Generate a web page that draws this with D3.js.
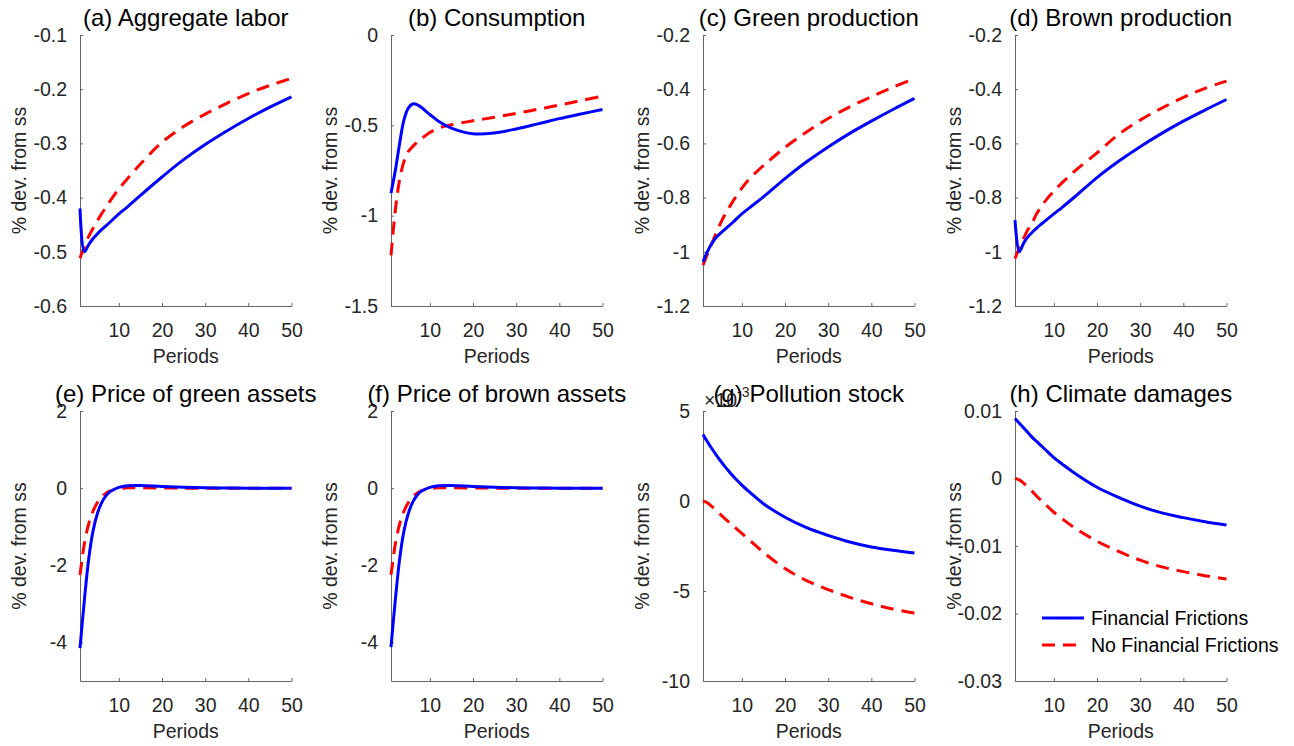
<!DOCTYPE html>
<html>
<head>
<meta charset="utf-8">
<script src="https://cdnjs.cloudflare.com/ajax/libs/d3/7.8.5/d3.min.js"></script>
<style>
  body { margin: 0; background: #fff; }
  text { font-family: "Liberation Sans", Arial, Helvetica, sans-serif; }
</style>
</head>
<body>
<div id="chart"></div>
<script>
var periods = [1, 2, 3, 4, 5, 6, 7, 8, 10, 12, 15, 20, 25, 30, 35, 40, 45, 50];

// (a) Aggregate labor
var laborFF   = [-0.420, -0.500, -0.487, -0.476, -0.467, -0.459, -0.452, -0.445, -0.430, -0.417, -0.396, -0.362, -0.330, -0.302, -0.277, -0.254, -0.233, -0.214];
var laborNoFF = [-0.512, -0.490, -0.472, -0.457, -0.443, -0.430, -0.418, -0.406, -0.384, -0.365, -0.338, -0.298, -0.269, -0.246, -0.226, -0.208, -0.193, -0.180];
// (b) Consumption
var consFF    = [-0.875, -0.750, -0.600, -0.470, -0.405, -0.382, -0.385, -0.400, -0.440, -0.477, -0.515, -0.547, -0.542, -0.520, -0.492, -0.463, -0.437, -0.412];
var consNoFF  = [-1.220, -0.970, -0.800, -0.700, -0.645, -0.618, -0.595, -0.575, -0.540, -0.515, -0.497, -0.475, -0.455, -0.434, -0.411, -0.388, -0.363, -0.338];
// (c) Green production
var greenFF   = [-1.037, -1.000, -0.970, -0.948, -0.932, -0.918, -0.904, -0.890, -0.860, -0.835, -0.797, -0.730, -0.668, -0.613, -0.563, -0.518, -0.475, -0.434];
var greenNoFF = [-1.049, -1.010, -0.972, -0.932, -0.897, -0.865, -0.838, -0.812, -0.765, -0.727, -0.682, -0.615, -0.558, -0.508, -0.465, -0.428, -0.393, -0.360];
// (d) Brown production
var brownFF   = [-0.883, -1.000, -0.968, -0.945, -0.928, -0.913, -0.899, -0.886, -0.860, -0.835, -0.795, -0.726, -0.666, -0.612, -0.563, -0.518, -0.477, -0.438];
var brownNoFF = [-1.025, -0.985, -0.950, -0.918, -0.893, -0.860, -0.836, -0.813, -0.776, -0.744, -0.700, -0.635, -0.567, -0.514, -0.470, -0.430, -0.397, -0.370];
// (e) Price of green assets
var pGreenFF   = [-4.15, -2.92, -1.85, -1.12, -0.67, -0.38, -0.20, -0.09, 0.02, 0.06, 0.07, 0.04, 0.02, 0.01, 0.005, 0, 0, 0];
var pGreenNoFF = [-2.25, -1.45, -0.93, -0.60, -0.38, -0.23, -0.13, -0.07, -0.015, 0.01, 0.01, 0.005, 0, 0, 0, 0, 0, 0];
// (f) Price of brown assets
var pBrownFF   = [-4.12, -2.90, -1.84, -1.11, -0.66, -0.37, -0.19, -0.08, 0.02, 0.06, 0.07, 0.04, 0.02, 0.01, 0.005, 0, 0, 0];
var pBrownNoFF = [-2.25, -1.45, -0.93, -0.60, -0.38, -0.23, -0.13, -0.07, -0.015, 0.01, 0.01, 0.005, 0, 0, 0, 0, 0, 0];
// (g) Pollution stock
var pollFF   = [3.70e-3, 3.30e-3, 2.93e-3, 2.58e-3, 2.25e-3, 1.94e-3, 1.65e-3, 1.37e-3, 0.88e-3, 0.45e-3, -0.15e-3, -0.90e-3, -1.48e-3, -1.91e-3, -2.28e-3, -2.56e-3, -2.74e-3, -2.89e-3];
var pollNoFF = [0, -0.10e-3, -0.30e-3, -0.52e-3, -0.74e-3, -0.96e-3, -1.17e-3, -1.38e-3, -1.80e-3, -2.22e-3, -2.85e-3, -3.75e-3, -4.42e-3, -4.92e-3, -5.35e-3, -5.71e-3, -6.00e-3, -6.22e-3];
// (h) Climate damages
var damFF   = [0.0089, 0.0082, 0.0075, 0.0068, 0.0061, 0.0055, 0.0049, 0.0043, 0.0031, 0.0021, 0.0007, -0.0013, -0.0028, -0.0041, -0.0051, -0.0058, -0.0064, -0.0069];
var damNoFF = [0, -0.0002, -0.0007, -0.0013, -0.0019, -0.0026, -0.0032, -0.0038, -0.0050, -0.0060, -0.0074, -0.0093, -0.0108, -0.0121, -0.0131, -0.0138, -0.0144, -0.0149];

var titles = ["(a) Aggregate labor", "(b) Consumption", "(c) Green production", "(d) Brown production",
              "(e) Price of green assets", "(f) Price of brown assets", "(g) Pollution stock", "(h) Climate damages"];
var yDomains = [[-0.6, -0.1], [-1.5, 0], [-1.2, -0.2], [-1.2, -0.2], [-5, 2], [-5, 2], [-10e-3, 5e-3], [-0.03, 0.01]];
var yTicks = [[-0.6, -0.5, -0.4, -0.3, -0.2, -0.1], [-1.5, -1, -0.5, 0], [-1.2, -1, -0.8, -0.6, -0.4, -0.2], [-1.2, -1, -0.8, -0.6, -0.4, -0.2],
              [-4, -2, 0, 2], [-4, -2, 0, 2], [-10e-3, -5e-3, 0, 5e-3], [-0.03, -0.02, -0.01, 0, 0.01]];
var xTicks = [10, 20, 30, 40, 50];
var seriesFF = [laborFF, consFF, greenFF, brownFF, pGreenFF, pBrownFF, pollFF, damFF];
var seriesNoFF = [laborNoFF, consNoFF, greenNoFF, brownNoFF, pGreenNoFF, pBrownNoFF, pollNoFF, damNoFF];
var legendLabels = ["Financial Frictions", "No Financial Frictions"];

var W = 1294, H = 746;
var colLeft = [80, 391, 703, 1015], plotW = 211.5;
var rowTop = [35, 411], rowBottom = [306, 681];

var svg = d3.select("#chart").append("svg")
    .attr("width", W)
    .attr("height", H);

function fmt(v) { return String(+v.toFixed(4)); }

titles.forEach(function (title, i) {
    var col = i % 4, row = Math.floor(i / 4);
    var left = colLeft[col], top = rowTop[row], bottom = rowBottom[row];
    var scaled = (i === 6); // pollution stock drawn in units of 1e-3

    var x = d3.scaleLinear().domain([1, 50]).range([left, left + plotW]);
    var y = d3.scaleLinear().domain(yDomains[i]).range([bottom, top]);

    var g = svg.append("g");

    // axes, MATLAB style: ticks pointing inwards, no box
    var xAxis = g.append("g")
        .attr("transform", "translate(0," + bottom + ")")
        .call(d3.axisBottom(x).tickValues(xTicks).tickSizeInner(-3).tickSizeOuter(0).tickPadding(17));
    var yAxis = g.append("g")
        .attr("transform", "translate(" + left + ",0)")
        .call(d3.axisLeft(y).tickValues(yTicks[i]).tickSizeInner(-3).tickSizeOuter(0).tickPadding(13)
            .tickFormat(function (d) { return scaled ? fmt(d * 1e3) : fmt(d); }));

    [xAxis, yAxis].forEach(function (a) {
        a.select(".domain").attr("stroke", "#666").attr("stroke-width", 1);
        a.selectAll(".tick line").attr("stroke", "#666");
        a.selectAll(".tick text")
            .attr("fill", "#262626")
            .style("font-size", "19.5px")
            .style("font-family", "Liberation Sans, Arial, sans-serif");
    });

    // lines
    var line = d3.line()
        .x(function (d, k) { return x(periods[k]); })
        .y(function (d) { return y(d); })
        .curve(d3.curveCatmullRom.alpha(0.5));

    g.append("path")
        .datum(seriesNoFF[i])
        .attr("fill", "none")
        .attr("stroke", "#ff0000")
        .attr("stroke-width", 3)
        .attr("stroke-dasharray", "13,8")
        .attr("d", line);

    g.append("path")
        .datum(seriesFF[i])
        .attr("fill", "none")
        .attr("stroke", "#0000ff")
        .attr("stroke-width", 3)
        .attr("d", line);

    // exponent label for the pollution stock panel
    if (scaled) {
        var ex = g.append("text")
            .attr("x", left + 1)
            .attr("y", top - 4)
            .attr("fill", "#262626")
            .style("font-size", "19.5px");
        ex.append("tspan").text("\u00d710");
        ex.append("tspan").attr("dy", -10).style("font-size", "14px").text("-3");
    }

    // title
    g.append("text")
        .attr("x", left + plotW / 2)
        .attr("y", top - 9.5)
        .attr("text-anchor", "middle")
        .attr("fill", "#000")
        .style("font-size", "24px")
        .text(title);

    // axis labels
    g.append("text")
        .attr("x", left + plotW / 2)
        .attr("y", bottom + 57)
        .attr("text-anchor", "middle")
        .attr("fill", "#262626")
        .style("font-size", "19.5px")
        .text("Periods");

    g.append("text")
        .attr("transform", "translate(" + (left - 61) + "," + ((top + bottom) / 2) + ") rotate(-90)")
        .attr("text-anchor", "middle")
        .attr("dy", "0.35em")
        .attr("fill", "#262626")
        .style("font-size", "19.5px")
        .text("% dev. from ss");

    // legend in the last panel
    if (i === 7) {
        var lg = g.append("g");
        legendLabels.forEach(function (lab, j) {
            var ly = 618 + j * 27;
            lg.append("line")
                .attr("x1", 1042).attr("x2", 1084)
                .attr("y1", ly).attr("y2", ly)
                .attr("stroke", j === 0 ? "#0000ff" : "#ff0000")
                .attr("stroke-width", 3)
                .attr("stroke-dasharray", j === 0 ? null : "13,8");
            lg.append("text")
                .attr("x", 1091)
                .attr("y", ly)
                .attr("dy", "0.35em")
                .attr("fill", "#000")
                .style("font-size", "19.5px")
                .text(lab);
        });
    }
});
</script>
</body>
</html>
